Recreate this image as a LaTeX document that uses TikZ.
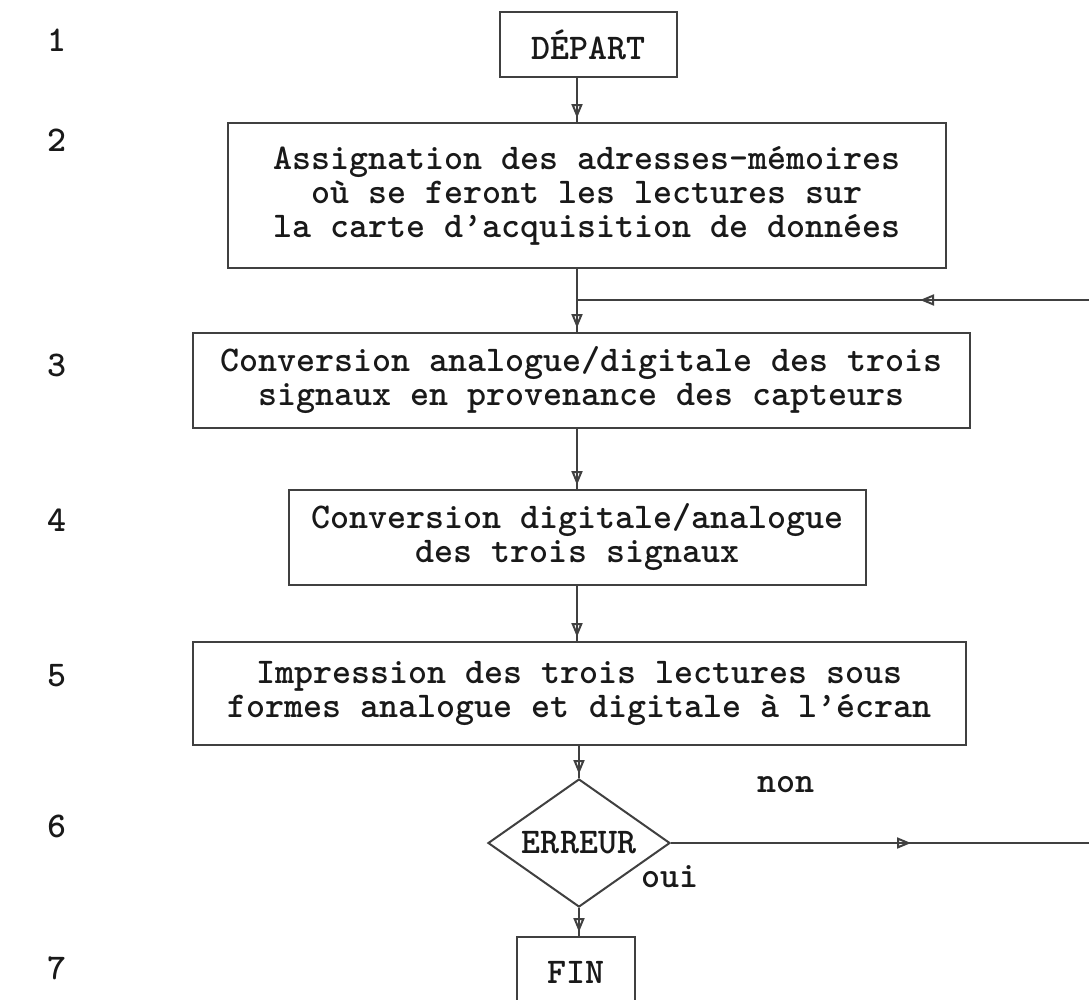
\documentclass[tikz,border=0pt]{standalone}
\usepackage{fontspec}
\usetikzlibrary{shapes.geometric,arrows.meta,decorations.markings}
\tikzset{mytip/.tip={Triangle[length=14pt,width=11pt,open,line width=2pt]}}
\begin{document}
\begin{tikzpicture}[x=1pt,y=-1pt,
  every node/.style={font=\fontsize{36.2}{34}\selectfont\ttfamily\bfseries,text=black!90},
  box/.style={draw=black!75,line width=2pt,inner sep=0pt,align=center},
  dia/.style={draw=black!75,line width=2pt,shape=diamond,aspect=1.4,inner sep=0pt,minimum width=182pt,minimum height=128pt},
  conn/.style={draw=black!75,line width=2pt},
  endarrow/.style={conn,postaction={decorate,decoration={markings,mark=at position -4pt with {\arrow{mytip}}}}},
  midarrow/.style={conn,postaction={decorate,decoration={markings,mark=at position #1 with {\arrow{mytip}}}}},
  num/.style={anchor=center}
]
\useasboundingbox (0,0) rectangle (1089,999);
\clip (0,0) rectangle (1089,999);
\fill[white] (0,0) rectangle (1089,999);
\coordinate (spine) at (577,0);
% row numbers
\node[num] (n1) at (57,40) {1};
\node[num] (n2) at (57,140) {2};
\node[num] (n3) at (57,365) {3};
\node[num] (n4) at (57,520) {4};
\node[num] (n5) at (57,676) {5};
\node[num] (n6) at (57,826) {6};
\node[num] (n7) at (57,968) {7};
% boxes
\node[box,minimum width=177pt,minimum height=65pt] (depart) at (588.5,44.5) {DÉPART};
\node[box,minimum width=718pt,minimum height=145pt] (b2) at (587,195.5) {Assignation des adresses-mémoires\\où se feront les lectures sur\\la carte d’acquisition de données};
\node[box,minimum width=777pt,minimum height=95pt] (b3) at (581.5,380.5) {Conversion analogue/digitale des trois\\signaux en provenance des capteurs};
\node[box,minimum width=577pt,minimum height=95pt] (b4) at (577.5,537.5) {Conversion digitale/analogue\\des trois signaux};
\node[box,minimum width=773pt,minimum height=103pt] (b5) at (579.5,693.5) {Impression des trois lectures sous\\formes analogue et digitale à l’écran};
\node[dia] (err) at (579,843) {ERREUR};
\node[box,minimum width=118pt,minimum height=70pt] (fin) at (576,972) {FIN};
% labels
\node (non) at (786,785) {non};
\node (oui) at (670,877) {oui};
% connectors
\coordinate (join) at (577,300);
\coordinate (loopA) at (1100,843);
\coordinate (loopB) at (1100,300);
\draw[endarrow] (depart.south -| spine) -- (b2.north -| spine);
\draw[conn] (b2.south -| spine) -- (join);
\draw[endarrow] (join) -- (b3.north -| spine);
\draw[endarrow] (b3.south -| spine) -- (b4.north -| spine);
\draw[endarrow] (b4.south -| spine) -- (b5.north -| spine);
\draw[endarrow] (b5.south -| err) -- (err.north);
\draw[endarrow] (err.south) -- (fin.north -| err);
\draw[midarrow=240pt] (err.east) -- (loopA);
\draw[conn] (loopA) -- (loopB);
\draw[midarrow=180pt] (loopB) -- (join);
\end{tikzpicture}
\end{document}
